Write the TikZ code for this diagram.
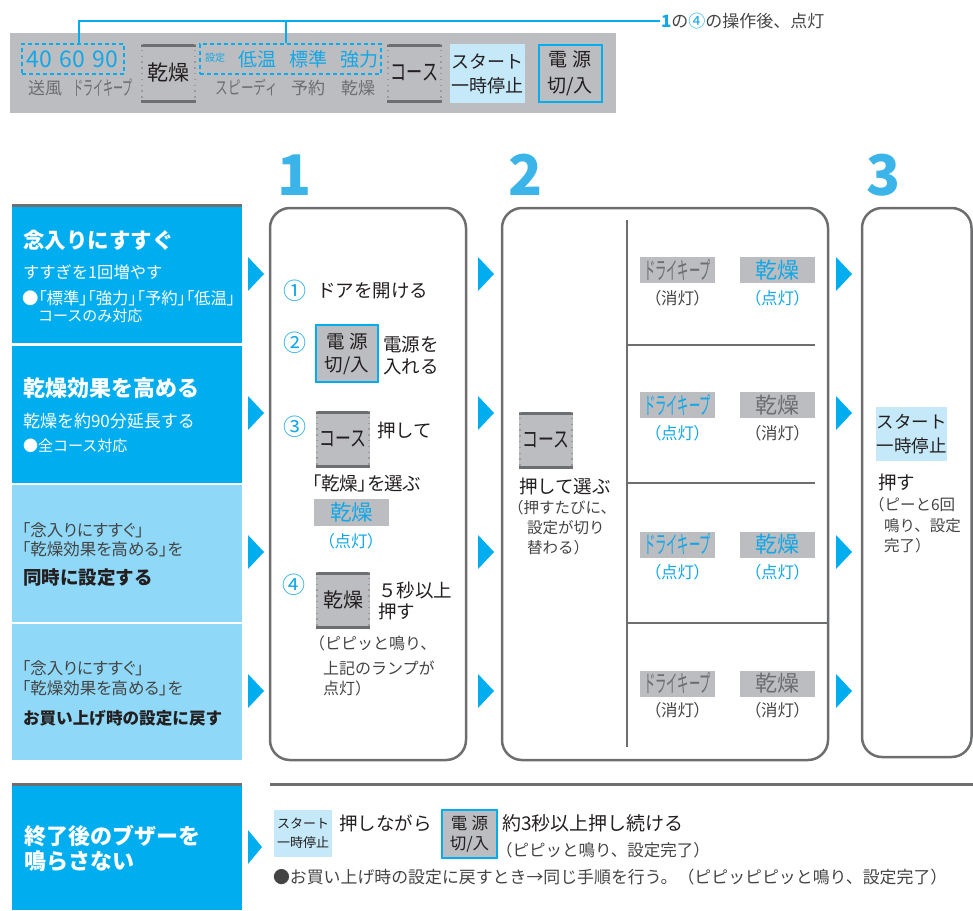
\documentclass[tikz,border=0pt]{standalone}
\usepackage{fontspec}
\usepackage{graphicx}
\setmainfont{Noto Sans CJK JP}
\newfontfamily\pfont{Noto Sans CJK JP}[RawFeature=+palt]
\definecolor{cblue}{HTML}{00AEEF}
\definecolor{tblue}{HTML}{13A7E6}
\definecolor{lblue}{HTML}{8FD8F7}
\definecolor{sblue}{HTML}{C6E9F9}
\definecolor{kgray}{HTML}{BCBDC0}
\definecolor{bord}{HTML}{6D6E70}
\definecolor{dtext}{HTML}{231F20}
\definecolor{mtext}{HTML}{444444}
\definecolor{gtext}{HTML}{6D6E70}
\definecolor{numc}{HTML}{3BB5E9}
\newcommand\myfs[1]{\fontsize{#1}{#1}\selectfont}
\newcommand\narrowtxt[2]{\scalebox{#1}[1]{#2}}
\begin{document}
\begin{tikzpicture}[x=1pt,y=-1pt,
  tl/.style={anchor=west,inner sep=0pt,outer sep=0pt,text=dtext},
  tc/.style={anchor=center,inner sep=0pt,outer sep=0pt,text=dtext},
  tri/.style={fill=cblue},
  stepbox/.style={draw=bord,line width=2.5pt,rounded corners=20pt},
  keyb/.style={fill=kgray,inner sep=0pt,outer sep=0pt,minimum width=54pt,minimum height=56pt,text=dtext,
    path picture={
      \draw[bord,line width=5pt] (path picture bounding box.north west) -- (path picture bounding box.north east)
        (path picture bounding box.south west) -- (path picture bounding box.south east);
      \draw[bord!70,line width=1.3pt,dash pattern=on 1.3pt off 4.5pt]
        ([xshift=1pt]path picture bounding box.north west) -- ([xshift=1pt]path picture bounding box.south west)
        ([xshift=-1pt]path picture bounding box.north east) -- ([xshift=-1pt]path picture bounding box.south east);
    }},
  powb/.style={fill=kgray,draw=cblue,line width=2pt,inner sep=0pt,text=dtext,align=center},
  startb/.style={fill=sblue,inner sep=0pt,text=dtext,align=center},
  lamp/.style={fill=kgray,inner sep=0pt,minimum width=75pt,minimum height=26pt,font=\myfs{24}},
  dbox/.style={draw=cblue,line width=2pt,dash pattern=on 4pt off 3pt,inner sep=0pt},
  callout/.style={draw=cblue,line width=1.5pt},
  divl/.style={draw=bord,line width=2pt},
  bignum/.style={tc,text=numc,font=\bfseries\myfs{56}},
  circ/.style={tc,text=tblue,font=\myfs{23}},
  paren/.style={tl,text=mtext,font=\myfs{16}},
  lab/.style={tc,font={\pfont\myfs{16.5}}},
]
\useasboundingbox (0,0) rectangle (973,910);
\clip (0,0) rectangle (973,910);

% ---------- top panel ----------
\fill[kgray] (10,33) rectangle (616,113);
\node[dbox,minimum width=102pt,minimum height=30pt] (db1) at (73,59) {};
\node[dbox,minimum width=181pt,minimum height=30pt] (db2) at (290.5,59) {};
\node[tc,text=tblue,font=\myfs{23}] (n40) at (39,59) {40};
\node[tc,text=tblue,font=\myfs{23}] (n60) at (72,59) {60};
\node[tc,text=tblue,font=\myfs{23}] (n90) at (105,59) {90};
\node[tc,text=tblue,font=\myfs{10}] (tset) at (215,58) {設定};
\node[tc,text=tblue,font=\myfs{19}] (tlow) at (257,59) {低温};
\node[tc,text=tblue,font=\myfs{19}] (tstd) at (308,59) {標準};
\node[tc,text=tblue,font=\myfs{19}] (tstr) at (359,59) {強力};
\node[tc,text=gtext,font=\myfs{17}] (lfan) at (45,88) {送風};
\node[tc,text=gtext,font=\myfs{20}] (ldk) at (103,88) {\narrowtxt{0.5}{ドライキープ}};
\node[tc,text=gtext,font=\myfs{18}] (lsp) at (247,88) {\narrowtxt{0.7}{スピーディ}};
\node[tc,text=gtext,font=\myfs{17}] (lres) at (308,88) {予約};
\node[tc,text=gtext,font=\myfs{17}] (ldry) at (358,88) {乾燥};
\node[keyb,minimum width=55pt,minimum height=58pt,font=\myfs{21}] (kdry0) at (168.5,73) {乾燥};
\node[keyb,minimum width=55pt,minimum height=58pt,font=\myfs{23}] (kcrs0) at (414.5,73) {\narrowtxt{0.7}{コース}};
\node[startb,minimum width=75pt,minimum height=59pt,font=\fontsize{18}{24}\selectfont] (kst0) at (487.5,73.5) {スタート\\一時停止};
\node[powb,minimum width=63pt,minimum height=57pt,font=\fontsize{19}{26}\selectfont] (kpw0) at (570,73) {電\hspace{0.25em}源\\切/入};

\node[tl,text=mtext,font=\myfs{17}] (clab) at (661,21) {{\bfseries\color{tblue}1}の{\color{tblue}④}の操作後、点灯};
\draw[callout] ([xshift=6pt]db1.north) |- ([xshift=-1pt]clab.west);
\draw[callout] ([xshift=-4.5pt]db2.north) -- ([xshift=-4.5pt]db2.north |- clab.west);

% ---------- step numbers ----------
\node[bignum] (num1) at (295,175) {1};
\node[bignum] (num2) at (526,175) {2};
\node[bignum] (num3) at (884,175) {3};

% ---------- left column ----------
\fill[cblue] (12,204) rectangle (242,343);
\draw[bord,line width=3pt] (12,205.5) -- (242,205.5);
\fill[cblue] (12,346) rectangle (242,483);
\fill[lblue] (12,485) rectangle (242,622);
\fill[lblue] (12,624) rectangle (242,760);
\fill[cblue] (12,783) rectangle (242,910);
\draw[bord,line width=3pt] (12,784.5) -- (242,784.5);

\node[tl,text=white,font=\bfseries\myfs{21.5}] (r1a) at (23,240) {念入りにすすぐ};
\node[tl,text=white,font=\myfs{16.3}] (r1b) at (23,272) {すすぎを1回増やす};
\node[tl,text=white,font={\pfont\myfs{16.4}}] (r1c) at (22,298) {●「標準」「強力」「予約」「低温」};
\node[tl,text=white,font=\myfs{15}] (r1d) at (38,316) {コースのみ対応};

\node[tl,text=white,font=\bfseries\myfs{22}] (r2a) at (23,388) {乾燥効果を高める};
\node[tl,text=white,font=\myfs{17}] (r2b) at (23,421) {乾燥を約90分延長する};
\node[tl,text=white,font=\myfs{15}] (r2c) at (23,446) {●全コース対応};

\node[tl,text=mtext,font={\pfont\myfs{16.5}}] (r3a) at (22,530) {「念入りにすすぐ」};
\node[tl,text=mtext,font={\pfont\myfs{16.5}}] (r3b) at (22,549) {「乾燥効果を高める」を};
\node[tl,font=\bfseries\myfs{18.5}] (r3c) at (23,578) {同時に設定する};

\node[tl,text=mtext,font={\pfont\myfs{16.5}}] (r4a) at (22,668) {「念入りにすすぐ」};
\node[tl,text=mtext,font={\pfont\myfs{16.5}}] (r4b) at (22,688) {「乾燥効果を高める」を};
\node[tl,font=\bfseries\myfs{16.6}] (r4c) at (23,718) {お買い上げ時の設定に戻す};

\node[tl,text=white,font=\bfseries\myfs{22}] (r5a) at (24,836) {終了後のブザーを};
\node[tl,text=white,font=\bfseries\myfs{22}] (r5b) at (24,861) {鳴らさない};

% ---------- triangles ----------
\foreach \tx in {248,478,836} {
  \foreach \ty in {274,413,552,691} {
    \fill[tri] (\tx,\ty-17) -- (\tx+16,\ty) -- (\tx,\ty+17) -- cycle;
  }
}
\fill[tri] (248,830) -- (262,847) -- (248,864) -- cycle;

% ---------- step boxes ----------
\draw[stepbox] (270,208) rectangle (466,760);
\draw[stepbox] (502,208) rectangle (828,760);
\draw[stepbox] (862,208) rectangle (971.5,757);

% ---------- step 1 ----------
\node[circ] (c1) at (295,291) {①};
\node[tl,font=\myfs{18.5}] (s1a) at (317,291) {ドアを開ける};
\node[circ] (c2) at (295,343) {②};
\node[powb,minimum width=62pt,minimum height=57pt,font=\fontsize{18.5}{23}\selectfont] (kpw1) at (347,353.5) {電\hspace{0.25em}源\\切/入};
\node[tl,font=\myfs{18.5}] (s1b) at (383,345) {電源を};
\node[tl,font=\myfs{18.5}] (s1c) at (383,367) {入れる};
\node[circ] (c3) at (295,427) {③};
\node[keyb,font=\myfs{22}] (kcrs1) at (343,439) {\narrowtxt{0.72}{コース}};
\node[tl,font=\myfs{18.5}] (s1d) at (377,430) {押して};
\node[tl,font={\pfont\myfs{18.5}}] (s1e) at (312,483) {「乾燥」を選ぶ};
\node[lamp,minimum height=27pt,text=tblue,font=\myfs{21.5}] (lp1) at (351.5,512.5) {乾燥};
\node[lab,text=tblue] (lp1l) at (351,541) {（点灯）};
\node[circ] (c4) at (294,585) {④};
\node[keyb,font=\myfs{20}] (kdry1) at (343,600) {乾燥};
\node[tl,font=\myfs{18.5}] (s1f) at (378,590) {５秒以上};
\node[tl,font=\myfs{18.5}] (s1g) at (378,611) {押す};
\node[paren] (s1h) at (309,643) {（ピピッと鳴り、};
\node[paren] (s1i) at (323,668) {上記のランプが};
\node[paren] (s1j) at (323,688) {点灯）};

% ---------- step 2 ----------
\draw[divl] (627,220) -- (627,747);
\draw[divl] (627,345) -- (815,345);
\draw[divl] (627,483) -- (815,483);
\draw[divl] (627,623) -- (827,623);

\node[keyb,font=\myfs{22}] (kcrs2) at (546,440) {\narrowtxt{0.72}{コース}};
\node[tl,font=\myfs{18.5}] (s2a) at (519,486) {押して選ぶ};
\node[paren,font=\myfs{15.5}] (s2b) at (508,508) {（押すたびに、};
\node[paren,font=\myfs{15.5}] (s2c) at (527,528) {設定が切り};
\node[paren,font=\myfs{15.5}] (s2d) at (527,548) {替わる）};

\node[lamp,text=gtext] (dk1) at (677.5,270) {\narrowtxt{0.47}{ドライキープ}};
\node[lamp,text=tblue,font=\myfs{22}] (dr1) at (777.5,270) {乾燥};
\node[lab,text=mtext] (dk1l) at (677.5,298) {（消灯）};
\node[lab,text=tblue] (dr1l) at (777.5,298) {（点灯）};

\node[lamp,text=tblue] (dk2) at (677.5,405) {\narrowtxt{0.47}{ドライキープ}};
\node[lamp,text=gtext,font=\myfs{22}] (dr2) at (777.5,405) {乾燥};
\node[lab,text=tblue] (dk2l) at (677.5,433) {（点灯）};
\node[lab,text=mtext] (dr2l) at (777.5,433) {（消灯）};

\node[lamp,text=tblue] (dk3) at (677.5,544.5) {\narrowtxt{0.47}{ドライキープ}};
\node[lamp,text=tblue,font=\myfs{22}] (dr3) at (777.5,544.5) {乾燥};
\node[lab,text=tblue] (dk3l) at (677.5,572) {（点灯）};
\node[lab,text=tblue] (dr3l) at (777.5,572) {（点灯）};

\node[lamp,text=gtext] (dk4) at (677.5,683.5) {\narrowtxt{0.47}{ドライキープ}};
\node[lamp,text=gtext,font=\myfs{22}] (dr4) at (777.5,683.5) {乾燥};
\node[lab,text=mtext] (dk4l) at (677.5,710) {（消灯）};
\node[lab,text=mtext] (dr4l) at (777.5,710) {（消灯）};

% ---------- step 3 ----------
\node[startb,minimum width=71pt,minimum height=54pt,font=\fontsize{17.5}{24}\selectfont] (kst3) at (911.5,434) {スタート\\一時停止};
\node[tl,font=\myfs{18.5}] (s3a) at (878,482) {押す};
\node[paren,font=\myfs{15.5}] (s3b) at (869,505) {（ピーと6回};
\node[paren,font=\myfs{15.5}] (s3c) at (884,526) {鳴り、設定};
\node[paren,font=\myfs{15.5}] (s3d) at (884,546) {完了）};

% ---------- bottom ----------
\draw[bord,line width=3pt] (270,784.5) -- (973,784.5);
\node[startb,minimum width=58pt,minimum height=47pt,font=\fontsize{13}{19}\selectfont] (kst5) at (303,833.5) {スタート\\一時停止};
\node[tl,font=\myfs{18.5}] (b1) at (339,823) {押しながら};
\node[powb,minimum width=55pt,minimum height=48pt,font=\fontsize{16.5}{20}\selectfont] (kpw5) at (469.5,834) {電\hspace{0.25em}源\\切/入};
\node[tl,font=\myfs{19}] (b2) at (502,823) {約3秒以上押し続ける};
\node[paren,font=\myfs{16.5}] (b3) at (496,850) {（ピピッと鳴り、設定完了）};
\node[paren,font=\myfs{16.9}] (b4) at (273,877) {●お買い上げ時の設定に戻すとき→同じ手順を行う。（ピピッピピッと鳴り、設定完了）};
\end{tikzpicture}
\end{document}
